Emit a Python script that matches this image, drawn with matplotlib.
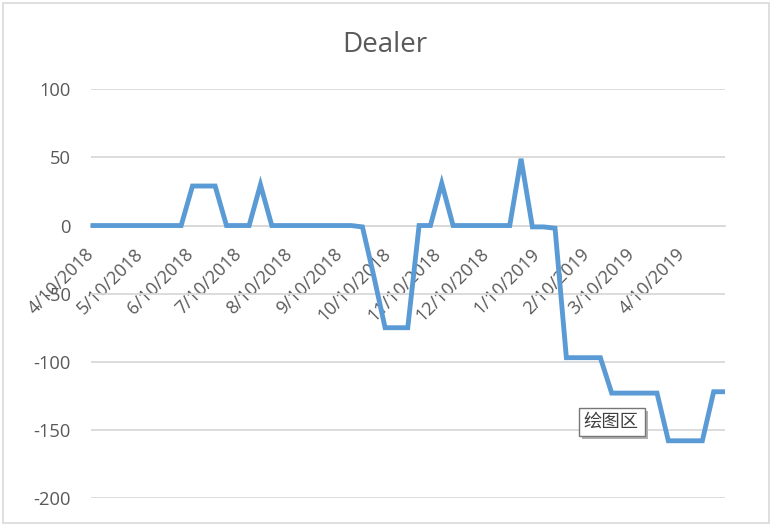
import numpy as np
import pandas as pd
import matplotlib
matplotlib.use("Agg")
import matplotlib.pyplot as plt
import matplotlib.transforms as mtransforms
from matplotlib.patches import Rectangle

plt.rcParams["axes.unicode_minus"] = False

# weekly values, starting 4/10/2018
start_date = "2018-04-10"
dealer = [0, 0, 0, 0, 0, 0, 0, 0, 0,
          29, 29, 29,
          0, 0, 0,
          30,
          0, 0, 0, 0, 0, 0, 0, 0,
          -1, -37,
          -75, -75, -75,
          0, 0,
          31,
          0, 0, 0, 0, 0, 0,
          49,
          -1, -1, -2,
          -97, -97, -97, -97,
          -123, -123, -123, -123, -123,
          -158, -158, -158, -158,
          -122, -122]
tick_labels = ["4/10/2018", "5/10/2018", "6/10/2018", "7/10/2018", "8/10/2018",
               "9/10/2018", "10/10/2018", "11/10/2018", "12/10/2018",
               "1/10/2019", "2/10/2019", "3/10/2019", "4/10/2019"]
y_ticks = [100, 50, 0, -50, -100, -150, -200]
title = "Dealer"
tooltip = "绘图区"

dates = pd.date_range(start_date, periods=len(dealer), freq="7D")
tick_dates = pd.to_datetime(tick_labels, format="%m/%d/%Y")

W, H = 774, 525
fig = plt.figure(figsize=(W / 100, H / 100), dpi=100)
fig.patch.set_facecolor("white")

def fx(px):
    return px / W

def fy(py):
    return 1 - py / H

left, right, top, bottom = 90.5, 725, 89.3, 498
ax = fig.add_axes([fx(left), fy(bottom), (right - left) / W, (bottom - top) / H])

grey = "#595959"
grid_c = "#D9D9D9"
font = "Open Sans"

ax.plot(dates, dealer, color="#5B9BD5", lw=3.5, solid_joinstyle="miter",
        solid_capstyle="butt", zorder=3, clip_on=False)
ax.set_xlim(dates[0], dates[-1])
ax.set_ylim(-200, 100)
ax.set_yticks(y_ticks)
ax.yaxis.grid(True, color=grid_c, lw=1.3)
ax.set_axisbelow(True)

for s in ["left", "right", "top"]:
    ax.spines[s].set_visible(False)
ax.spines["bottom"].set_position(("data", 0))
ax.spines["bottom"].set_color(grid_c)
ax.spines["bottom"].set_linewidth(1.3)

ax.set_xticks(tick_dates)
ax.set_xticklabels(tick_labels, rotation=45, ha="right", va="top",
                   fontfamily=font, fontsize=13, color=grey)
ax.tick_params(axis="x", length=0, pad=14)
ax.tick_params(axis="y", length=0, pad=14, labelsize=13.2, labelcolor=grey)
for lab in ax.get_yticklabels():
    lab.set_fontfamily(font)
offset = mtransforms.ScaledTranslation(7.5 / 100, 0, fig.dpi_scale_trans)
for lab in ax.get_xticklabels():
    lab.set_transform(lab.get_transform() + offset)

fig.text(fx(385), fy(52), title, ha="center", va="baseline",
         fontfamily=font, fontsize=20, color=grey)

# chart border
fig.patches.append(Rectangle((fx(2.5), fy(522.5)), (768.5 - 2.5) / W, (522.5 - 2.5) / H,
                             transform=fig.transFigure, fill=False,
                             edgecolor=grid_c, lw=1.2))

# tooltip box with shadow
bx0, by0, bx1, by1 = 578.5, 407.5, 644.5, 435.5
fig.patches.append(Rectangle((fx(bx0 + 3), fy(by1 + 3)), (bx1 - bx0) / W, (by1 - by0) / H,
                             transform=fig.transFigure, facecolor="#B0B0B0",
                             edgecolor="none", zorder=9))
fig.patches.append(Rectangle((fx(bx0), fy(by1)), (bx1 - bx0) / W, (by1 - by0) / H,
                             transform=fig.transFigure, facecolor="white",
                             edgecolor="#767676", lw=1.0, zorder=10))
fig.text(fx(583), fy(421.5), tooltip, ha="left", va="center", zorder=11,
         fontfamily=["Noto Sans CJK SC", "DejaVu Sans"], fontsize=13.2, color="#404040")

fig.savefig("out.png", dpi=100)
